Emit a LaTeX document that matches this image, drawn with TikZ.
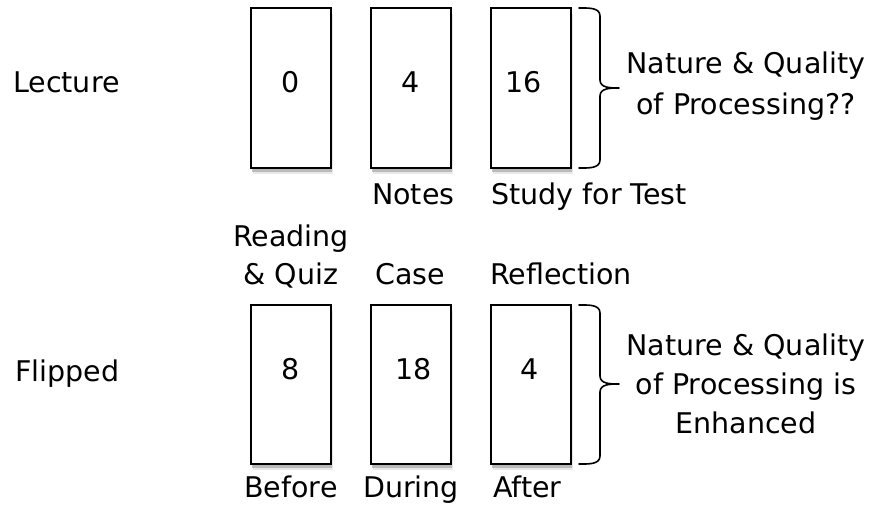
\documentclass[tikz,border=0pt]{standalone}
\usepackage{fontspec}
\setmainfont{DejaVu Sans}
\usetikzlibrary{shadows}

\begin{document}
\begin{tikzpicture}[x=1pt,y=-1pt,
  txt/.style={inner sep=0pt,font=\fontsize{28.5}{41}\selectfont},
  slot/.style={draw=black,line width=2.2pt,fill=white,minimum width=80pt,
    inner sep=0pt,
    drop shadow={shadow xshift=1.5pt,shadow yshift=-6pt,fill=black!18},
    drop shadow={shadow xshift=1pt,shadow yshift=-4pt,fill=black!45}},
  brace/.style={draw=black,line width=1.6pt,line cap=round,line join=round}]
\useasboundingbox (0,0) rectangle (876,510);

% activity slots
\node[slot,minimum height=160pt] (l1) at (291,88) {};
\node[slot,minimum height=160pt] (l2) at (411,88) {};
\node[slot,minimum height=160pt] (l3) at (531,88) {};
\node[slot,minimum height=159pt] (f1) at (291,384.5) {};
\node[slot,minimum height=159pt] (f2) at (411,384.5) {};
\node[slot,minimum height=159pt] (f3) at (531,384.5) {};

% minutes in each slot
\node[txt,anchor=base] (n1) at (291,93) {0};
\node[txt,anchor=base] (n2) at (411,93) {4};
\node[txt,anchor=base] (n3) at (524,93) {16};
\node[txt,anchor=base] (m1) at (291,380) {8};
\node[txt,anchor=base] (m2) at (414,380) {18};
\node[txt,anchor=base] (m3) at (530,380) {4};

% row titles
\node[txt,anchor=base west] (lec) at (13,93) {Lecture};
\node[txt,anchor=base west] (flip) at (15,382) {Flipped};

% labels under and over the slots
\node[txt,anchor=base west] (notes) at (372,205) {Notes};
\node[txt,anchor=base west] (study) at (491,205) {Study for Test};
\node[txt,anchor=base] (read) at (291,247) {Reading};
\node[txt,anchor=base] (quiz) at (291,285) {\& Quiz};
\node[txt,anchor=base] (case) at (410,285) {Case};
\node[txt,anchor=base west] (refl) at (490,285) {Reflection};
\node[txt,anchor=base] (before) at (291,498) {Before};
\node[txt,anchor=base] (during) at (411,498) {During};
\node[txt,anchor=base west] (after) at (493,498) {After};

% braces
\draw[brace] (579,8) to[out=0,in=90] (600,16) -- (600,80)
  to[out=-90,in=180] (619,88) to[out=180,in=90] (600,96) -- (600,160)
  to[out=-90,in=0] (579,168);
\draw[brace] (579,305) to[out=0,in=90] (600,313) -- (600,376)
  to[out=-90,in=180] (619,384) to[out=180,in=90] (600,392) -- (600,456)
  to[out=-90,in=0] (579,464);

% conclusions
\node[txt,align=center] (q1) at (746,86) {Nature \& Quality\\of Processing??};
\node[txt,align=center] (q2) at (746,384) {Nature \& Quality\\[-2pt]of Processing is\\[-2pt]Enhanced};
\end{tikzpicture}
\end{document}
